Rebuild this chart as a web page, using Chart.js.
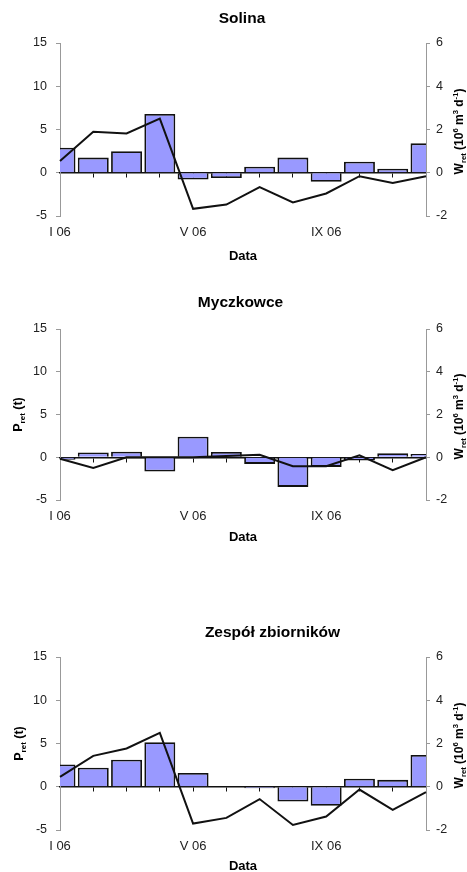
<!DOCTYPE html>
<html><head><meta charset="utf-8">
<script src="https://cdn.jsdelivr.net/npm/chart.js@4.4.0/dist/chart.umd.min.js"></script>
<style>
html,body{margin:0;padding:0;background:#fff;overflow:hidden;width:467px;height:872px}
.box{position:absolute;left:0;width:467px}
</style></head><body>
<div class="box" style="top:0;height:275px"><canvas id="c1"></canvas></div>
<div class="box" style="top:280px;height:270px"><canvas id="c2"></canvas></div>
<div class="box" style="top:600px;height:290px"><canvas id="c3"></canvas></div>
<script>
// ---- data ----
const months = ['I 06','II 06','III 06','IV 06','V 06','VI 06','VII 06','VIII 06','IX 06','X 06','XI 06','XII 06'];
const leftTicks = [-5, 0, 5, 10, 15];
const rightTicks = [-2, 0, 2, 4, 6];
const chartTitles = ['Solina', 'Myczkowce', 'Zespół zbiorników'];
const xTitle = 'Data';
const leftTitle = [['P', 0], ['ret', -1], [' (t)', 0]];
const rightTitle = [['W', 0], ['ret', -1], [' (10', 0], ['6', 1], [' m', 0], ['3', 1], [' d', 0], ['-1', 1], [')', 0]];

const solinaP = [2.9, 1.75, 2.5, 6.8, -0.78, -0.62, 0.7, 1.75, -1.05, 1.28, 0.45, 3.4];
const solinaW = [0.54, 1.9, 1.82, 2.5, -1.67, -1.47, -0.66, -1.37, -0.96, -0.16, -0.47, -0.16];
const myczP = [-0.3, 0.55, 0.65, -1.68, 2.4, 0.62, -0.78, -3.47, -1.13, -0.37, 0.47, 0.39];
const myczW = [-0.07, -0.5, 0, 0, 0, 0.06, 0.12, -0.42, -0.42, 0.09, -0.6, 0];
const zespolP = [2.58, 2.2, 3.12, 5.15, 1.59, 0.04, -0.18, -1.7, -2.2, 0.92, 0.8, 3.67];
const zespolW = [0.46, 1.43, 1.77, 2.49, -1.7, -1.44, -0.57, -1.77, -1.38, -0.13, -1.07, -0.25];

const FAM = '"Liberation Sans", Arial, Helvetica, sans-serif';
Chart.defaults.font.family = FAM;
Chart.defaults.color = '#222';

function drawRich(ctx, segs, cx, cy, rot, size) {
  const small = size * 0.64;
  ctx.save();
  ctx.translate(cx, cy);
  ctx.rotate(rot);
  const fonts = segs.map(([t, s]) => 'bold ' + (s ? small : size) + 'px ' + FAM);
  let total = 0;
  segs.forEach(([t, s], i) => { ctx.font = fonts[i]; total += ctx.measureText(t).width; });
  let x = -total / 2;
  ctx.textAlign = 'left';
  ctx.textBaseline = 'alphabetic';
  ctx.fillStyle = '#000';
  const base = size * 0.36;
  segs.forEach(([t, s], i) => {
    ctx.font = fonts[i];
    const dy = s < 0 ? size * 0.28 : (s > 0 ? -size * 0.42 : 0);
    ctx.fillText(t, x, base + dy);
    x += ctx.measureText(t).width;
  });
  ctx.restore();
}

function makeChart(id, title, P, W, L) {
  const textPlugin = {
    id: 'richText' + id,
    afterDraw(chart) {
      const ctx = chart.ctx;
      const a = chart.chartArea;
      const mid = (a.top + a.bottom) / 2;
      ctx.save();
      ctx.font = 'bold 15.5px ' + FAM;
      ctx.fillStyle = '#000';
      ctx.textAlign = 'center';
      ctx.textBaseline = 'middle';
      ctx.fillText(title, L.titleX, L.titleY);
      ctx.restore();
      if (L.left) drawRich(ctx, leftTitle, L.leftX, mid, -Math.PI / 2, 12.5);
      drawRich(ctx, rightTitle, L.rightX, mid + 2, -Math.PI / 2, 12);
    }
  };
  return new Chart(document.getElementById(id), {
    data: {
      labels: months,
      datasets: [
        { type: 'line', data: W, yAxisID: 'y1', xAxisID: 'x', order: 0,
          borderColor: '#111', borderWidth: 2, pointRadius: 0, tension: 0, fill: false },
        { type: 'bar', data: P, yAxisID: 'y', xAxisID: 'x', order: 1,
          backgroundColor: '#9999ff', borderColor: '#111', borderWidth: 1.8,
          barPercentage: 0.93, categoryPercentage: 1, clip: 0 }
      ]
    },
    options: {
      responsive: true,
      maintainAspectRatio: false,
      animation: false,
      layout: { padding: { top: L.plotTop, bottom: L.padBottom, left: 0, right: 0 } },
      plugins: { legend: { display: false }, tooltip: { enabled: false }, title: { display: false } },
      scales: {
        x: {
          type: 'category', offset: false, position: 'bottom',
          grid: { display: false, drawTicks: false },
          border: { display: false },
          ticks: { autoSkip: false, maxRotation: 0, padding: 9, color: '#222', font: { size: 13 },
                   callback: (v, i) => (i % 4 === 0 ? months[i] : '') },
          title: { display: true, text: xTitle, color: '#000', font: { size: 13, weight: 'bold' }, padding: 0 },
          afterFit: s => { s.height = L.xh; }
        },
        x0: {
          type: 'category', axis: 'x', offset: false, position: { y: 0 }, z: 1,
          grid: { drawOnChartArea: false, drawTicks: true, tickLength: 4, color: '#111', lineWidth: 1 },
          border: { display: true, color: '#111', width: 1.5 },
          ticks: { display: false },
          afterFit: s => { s.height = 0; }
        },
        y: {
          position: 'left',
          min: leftTicks[0], max: leftTicks[leftTicks.length - 1],
          ticks: { stepSize: leftTicks[1] - leftTicks[0], padding: 9, color: '#222', font: { size: 12.5 } },
          grid: { drawOnChartArea: false, drawTicks: true, tickLength: 4, color: '#999' },
          border: { display: true, color: '#999', width: 1 },
          afterFit: s => { s.width = 60; }
        },
        y1: {
          position: 'right',
          min: rightTicks[0], max: rightTicks[rightTicks.length - 1],
          ticks: { stepSize: rightTicks[1] - rightTicks[0], padding: 6, color: '#222', font: { size: 12.5 } },
          grid: { drawOnChartArea: false, drawTicks: true, tickLength: 4, color: '#999' },
          border: { display: true, color: '#999', width: 1 },
          afterFit: s => { s.width = 41; }
        }
      }
    },
    plugins: [textPlugin]
  });
}

makeChart('c1', chartTitles[0], solinaP, solinaW,
  { plotTop: 43, padBottom: 11.2, xh: 47.8, titleX: 242, titleY: 19, left: false, leftX: 17, rightX: 458.5 });
makeChart('c2', chartTitles[1], myczP, myczW,
  { plotTop: 49, padBottom: 4.7, xh: 45.3, titleX: 240.5, titleY: 23, left: true, leftX: 17, rightX: 458.5 });
makeChart('c3', chartTitles[2], zespolP, zespolW,
  { plotTop: 57, padBottom: 15.5, xh: 44.5, titleX: 272.5, titleY: 33, left: true, leftX: 18, rightX: 458.5 });
</script>
</body></html>
